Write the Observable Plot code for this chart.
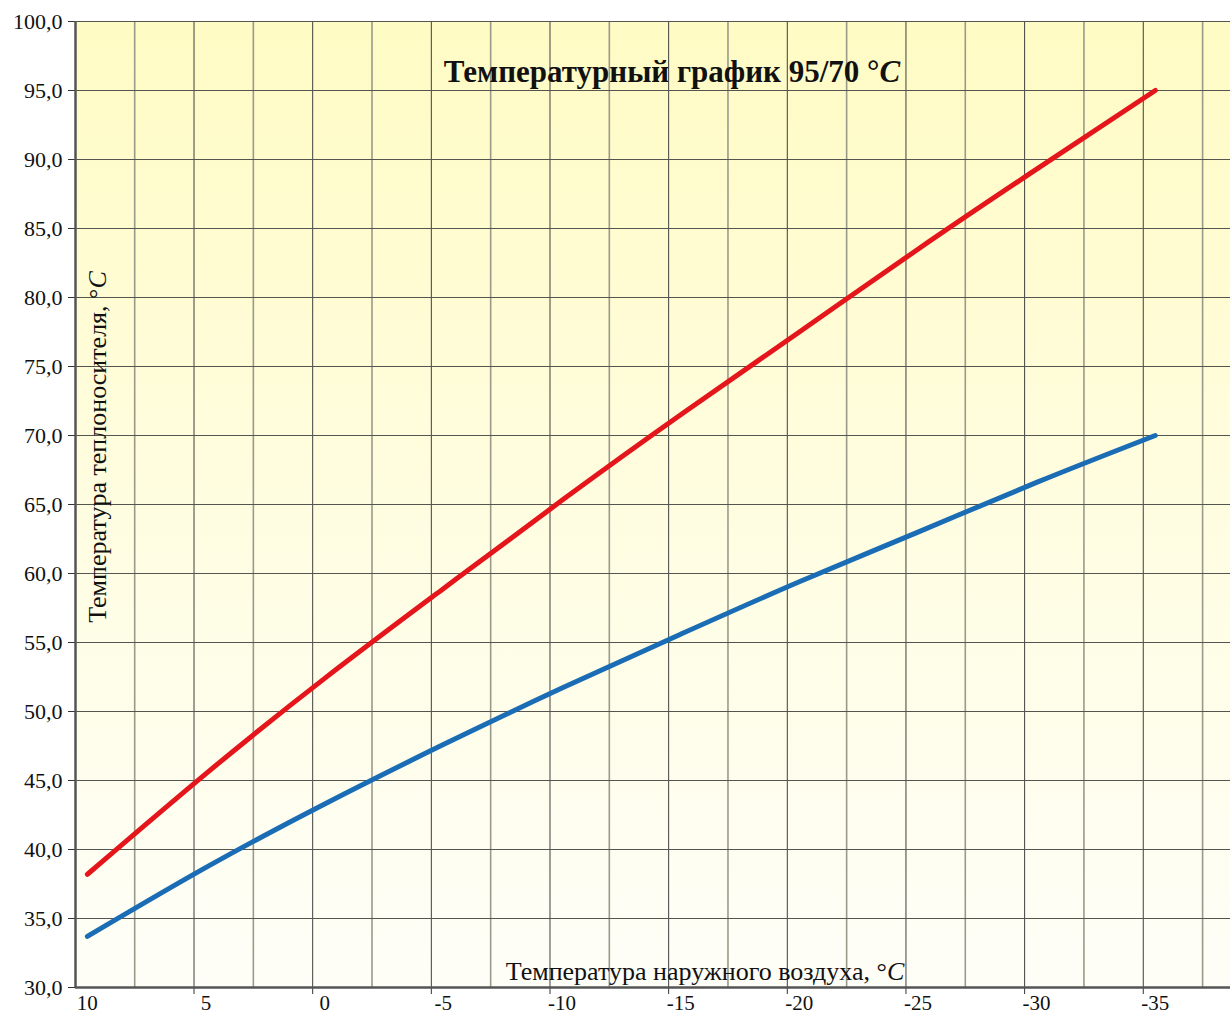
<!DOCTYPE html>
<html>
<head>
<meta charset="utf-8">
<script src="https://cdn.jsdelivr.net/npm/d3@7"></script>
<script src="https://cdn.jsdelivr.net/npm/@observablehq/plot@0.6"></script>
<style>
  html, body { margin: 0; padding: 0; background: #ffffff; }
  #chart { position: relative; width: 1230px; height: 1013px; }
  svg { display: block; }
  #chart svg text { font-family: "Liberation Serif", "DejaVu Serif", serif !important; }
</style>
</head>
<body>
<div id="chart"></div>
<script>
// Outdoor air temperature, °C
const outdoorTemps = [10, 5, 0, -5, -10, -15, -20, -25, -30, -35];
// Supply (red) and return (blue) water temperature, °C
const supplyTemps = [38.2, 45.5, 52.4, 58.9, 65.3, 71.5, 77.5, 83.5, 89.3, 95.0];
const returnTemps = [33.7, 38.7, 43.3, 47.6, 51.7, 55.6, 59.4, 63.0, 66.6, 70.0];

const xTickValues = [10, 5, 0, -5, -10, -15, -20, -25, -30, -35];
const xMinorValues = [7.5, 2.5, -2.5, -7.5, -12.5, -17.5, -22.5, -27.5, -32.5, -37.5];
const yTickValues = [30, 35, 40, 45, 50, 55, 60, 65, 70, 75, 80, 85, 90, 95, 100];

const titleText = "Температурный график 95/70 °";
const yLabelText = "Температура теплоносителя, °";
const xLabelText = "Температура наружного воздуха, °";

const supply = outdoorTemps.map((t, i) => ({t, v: supplyTemps[i]}));
const ret = outdoorTemps.map((t, i) => ({t, v: returnTemps[i]}));

const fmt = d => d.toFixed(1).replace(".", ",");
const serif = "Liberation Serif";
const GX = -12; // grid offset relative to data positions

const plot = Plot.plot({
  width: 1230,
  height: 1013,
  marginLeft: 75,
  marginRight: 0,
  marginTop: 21,
  marginBottom: 26,
  style: {fontFamily: serif, background: "transparent", overflow: "visible"},
  x: {domain: [10.5, -38.17], range: [75, 1230], label: null},
  y: {domain: [30, 100], label: null},
  marks: [
    Plot.frame({fill: "url(#bggrad)", stroke: "none"}),
    // minor vertical grid
    Plot.ruleX(xMinorValues, {x: d => d, dx: GX, stroke: "#9a9a8a", strokeWidth: 1.6}),
    // major vertical grid
    Plot.ruleX(xTickValues.slice(1), {x: d => d, dx: GX, stroke: "#3f3f3f", strokeWidth: 1}),
    // horizontal grid
    Plot.ruleY(yTickValues, {y: d => d, stroke: "#555550", strokeWidth: 1}),
    Plot.axisX({ticks: xTickValues, tickFormat: d => String(d), tickSize: 0, tickPadding: 8, fontSize: 21, fontFamily: serif, fontVariant: "normal", fill: "#111", label: null}),
    Plot.axisX({ticks: xTickValues.slice(1), tickFormat: () => "", tickSize: 7, dx: GX, stroke: "#333", label: null}),
    Plot.axisY({ticks: yTickValues, tickFormat: fmt, tickSize: 7, tickPadding: 6, fontSize: 22, fontFamily: serif, fontVariant: "normal", fill: "#111", stroke: "#333", label: null}),
    // axis lines
    Plot.ruleX([10.5], {stroke: "#555", strokeWidth: 2.5}),
    Plot.ruleY([30], {stroke: "#555", strokeWidth: 2.5}),
    // data lines
    Plot.line(supply, {x: "t", y: "v", stroke: "#e5161b", strokeWidth: 5, curve: "natural", strokeLinecap: "round"}),
    Plot.line(ret, {x: "t", y: "v", stroke: "#1a6db4", strokeWidth: 5, curve: "natural", strokeLinecap: "round"})
  ]
});

// gradient background definition
const svg = d3.select(plot);
const defs = svg.insert("defs", ":first-child");
const grad = defs.append("linearGradient").attr("id", "bggrad")
  .attr("x1", 0).attr("y1", 0).attr("x2", 0).attr("y2", 1);
grad.append("stop").attr("offset", "0%").attr("stop-color", "#fffbc4");
grad.append("stop").attr("offset", "50%").attr("stop-color", "#fffde0");
grad.append("stop").attr("offset", "100%").attr("stop-color", "#fefef8");

// title
const title = svg.append("text")
  .attr("x", 672).attr("y", 82)
  .attr("text-anchor", "middle")
  .attr("font-size", 31).attr("font-weight", "bold").attr("fill", "#111");
title.append("tspan").text(titleText);
title.append("tspan").attr("font-style", "italic").text("C");

// y label
const yl = svg.append("text")
  .attr("transform", "translate(106, 447) rotate(-90)")
  .attr("text-anchor", "middle")
  .attr("font-size", 26).attr("fill", "#111");
yl.append("tspan").text(yLabelText);
yl.append("tspan").attr("font-style", "italic").text("C");

// x label
const xl = svg.append("text")
  .attr("x", 705).attr("y", 980)
  .attr("text-anchor", "middle")
  .attr("font-size", 26).attr("fill", "#111");
xl.append("tspan").text(xLabelText);
xl.append("tspan").attr("font-style", "italic").text("C");

document.getElementById("chart").appendChild(plot);
</script>
</body>
</html>
